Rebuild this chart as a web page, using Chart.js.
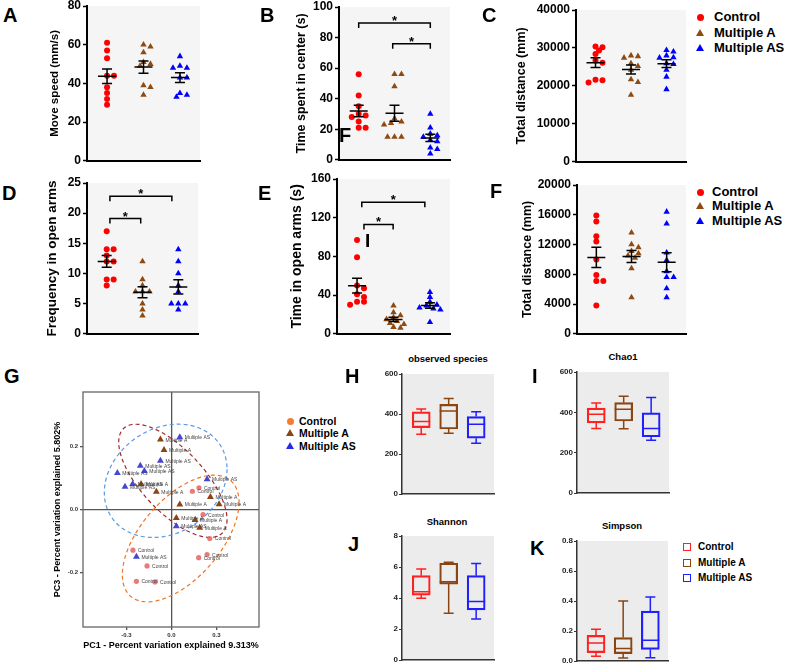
<!DOCTYPE html>
<html>
<head>
<meta charset="utf-8">
<script src="https://cdn.jsdelivr.net/npm/chart.js@4.4.1/dist/chart.umd.min.js"></script>
<style>
  body { margin: 0; background: #fff; }
  #fig { position: relative; width: 789px; height: 666px; overflow: hidden; font-family: "Liberation Sans", Arial, sans-serif; }
  #fig canvas { position: absolute; }
  .lbl { position: absolute; font-weight: bold; color: #000; white-space: nowrap; }
</style>
</head>
<body>
<div id="fig"></div>
<script>
// ----------------- Data -----------------
const groups = ['Control', 'Multiple A', 'Multiple AS'];

// A-F: one list per group (Control, Multiple A, Multiple AS)
const moveSpeed = [
  [61, 57, 53, 44, 44, 38, 35, 32, 29],
  [59, 60, 56, 51, 50, 49, 39, 38, 34],
  [54, 49, 48, 48, 43, 43, 33, 35, 34]
];
const centerTime = [
  [56, 42, 35, 30, 29, 28, 25, 21, 21],
  [56, 56, 48, 27, 25, 24, 23, 15, 15, 15],
  [30, 21, 17, 16, 15, 13, 12, 8, 7, 4]
];
const distanceOpenField = [
  [30200, 30400, 29300, 28400, 26700, 26100, 20900, 21600, 21500],
  [27800, 28000, 27400, 25900, 25200, 24200, 21000, 21700, 17600],
  [28000, 29000, 29400, 27400, 25900, 25700, 24200, 22400, 19100, 27500]
];
const openArmFreq = [
  [17, 14, 14, 13, 12, 12, 9, 9, 8],
  [12, 9, 8, 7, 7, 7, 5, 4, 3],
  [14, 12, 10, 8, 7, 5, 5, 5, 4]
];
const openArmTime = [
  [97, 79, 50, 47, 41, 38, 33, 33, 30],
  [29, 22, 19, 17, 15, 13, 11, 10, 7, 6],
  [43, 38, 33, 30, 29, 27, 26, 25, 12]
];
const distanceMaze = [
  [15900, 15100, 13100, 12400, 10000, 7900, 7100, 7100, 3800],
  [13600, 12000, 11600, 11100, 10800, 10500, 10200, 8800, 4900],
  [16400, 14800, 10900, 9900, 8400, 7600, 7600, 6100, 4900]
];

// significance brackets: [from group, to group, level]
const centerTimeBrackets = [[0, 2, 89.6], [0.95, 2, 76]];
const openArmFreqBrackets = [[0.09, 0.95, 19.1], [0.09, 1.82, 22.8]];
const openArmTimeBrackets = [[0.19, 0.99, 113], [0.13, 1.86, 136]];

// H-K boxes: [min, q1, median, q3, max] per group
const observedSpecies = [[299, 332, 362, 411, 425], [304, 325, 415, 448, 478], [254, 279, 349, 387, 411]];
const chao1 = [[320, 348, 390, 421, 446], [318, 357, 415, 448, 480], [261, 279, 320, 397, 474]];
const shannon = [[3.98, 4.19, 4.41, 5.44, 5.87], [3.01, 4.90, 5.05, 6.24, 6.30], [2.65, 3.23, 3.78, 5.44, 6.22]];
const simpson = [[0.031, 0.056, 0.12, 0.171, 0.211], [0.02, 0.049, 0.084, 0.156, 0.40], [0.022, 0.078, 0.138, 0.333, 0.427]];

// G: PCoA coordinates [PC1, PC3]
const pcoaControl = [[0.140, 0.057], [0.184, 0.068], [0.211, -0.017], [0.256, -0.093], [0.238, -0.144],
  [0.182, -0.154], [-0.256, -0.130], [-0.162, -0.180], [-0.233, -0.229], [-0.109, -0.231]];
const pcoaA = [[-0.073, 0.221], [-0.049, 0.188], [-0.202, 0.080], [-0.100, 0.055], [0.056, 0.015],
  [0.260, 0.039], [0.318, 0.016], [0.033, -0.028], [0.158, -0.034], [0.189, -0.059]];
const pcoaAS = [[0.056, 0.228], [-0.073, 0.154], [-0.207, 0.138], [-0.180, 0.121], [-0.360, 0.115],
  [-0.258, 0.080], [-0.309, 0.071], [0.238, 0.095], [0.033, -0.054], [-0.233, -0.151]];
// group ellipses: centre and two conjugate semi-axes (PC1, PC3 units)
const ellipseCenter = [[0.062, -0.093], [0.010, 0.090], [-0.038, 0.090]];
const ellipseAxis1 = [[0.389, 0.115], [0.361, -0.123], [0.409, 0.037]];
const ellipseAxis2 = [[0, -0.165], [0, -0.131], [0, -0.176]];

// ----------------- Styles -----------------
const FONT = '"Liberation Sans", Arial, sans-serif';
Chart.defaults.font.family = FONT;
Chart.defaults.color = '#000';
const dotColors = ['#ff0000', '#8f4a12', '#0000ff'];
const boxColors = ['#ff2020', '#8b4513', '#2020ff'];
const fig = document.getElementById('fig');

function makeCanvas(left, top, w, h) {
  const c = document.createElement('canvas');
  c.width = w; c.height = h;
  c.style.left = left + 'px'; c.style.top = top + 'px';
  c.style.width = w + 'px'; c.style.height = h + 'px';
  fig.appendChild(c);
  return c;
}

function addText(text, x, cy, size, center) {
  const d = document.createElement('div');
  d.className = 'lbl';
  d.textContent = text;
  d.style.fontSize = size + 'px';
  d.style.lineHeight = (size * 1.2) + 'px';
  d.style.top = (cy - size * 0.59) + 'px';
  d.style.left = x + 'px';
  if (center) d.style.transform = 'translateX(-50%)';
  fig.appendChild(d);
}

function addMarker(shape, color, cx, cy, s) {
  const d = document.createElement('div');
  d.style.position = 'absolute';
  if (shape === 'circle') {
    Object.assign(d.style, { left: cx - s / 2 + 'px', top: cy - s / 2 + 'px', width: s + 'px', height: s + 'px', borderRadius: '50%', background: color });
  } else if (shape === 'triangle') {
    const h = s * 0.9;
    Object.assign(d.style, { left: cx - s / 2 + 'px', top: cy - h / 2 + 'px', width: 0, height: 0,
      borderLeft: (s / 2) + 'px solid transparent', borderRight: (s / 2) + 'px solid transparent', borderBottom: h + 'px solid ' + color });
  } else {
    Object.assign(d.style, { left: cx - s / 2 + 'px', top: cy - s / 2 + 'px', width: (s - 3) + 'px', height: (s - 3) + 'px', border: '1.5px solid ' + color });
  }
  fig.appendChild(d);
}

const bgPlugin = color => ({
  id: 'plotBg',
  beforeDraw(chart) {
    const { ctx, chartArea: a } = chart;
    ctx.save();
    ctx.fillStyle = color;
    ctx.fillRect(a.left, a.top, a.right - a.left, a.bottom - a.top);
    ctx.restore();
  }
});

// simple beeswarm so equal values spread sideways
function swarm(vals, pxPerY, pxPerX, dia) {
  const placed = [];
  const xs = new Array(vals.length);
  const order = vals.map((v, i) => i).sort((a, b) => vals[b] - vals[a]);
  order.forEach(i => {
    const py = vals[i] * pxPerY;
    let off = 0;
    for (let k = 0; k < 40; k++) {
      const cand = (k === 0 ? 0 : (k % 2 ? 1 : -1) * Math.ceil(k / 2)) * dia * 0.6;
      if (placed.every(p => (p[0] - cand) ** 2 + (p[1] - py) ** 2 >= dia * dia * 0.7)) { off = cand; break; }
    }
    placed.push([off, py]);
    xs[i] = off / pxPerX;
  });
  return xs;
}

// mean +/- SEM and significance brackets
function meanSemPlugin(values, brackets) {
  return {
    id: 'meanSem',
    afterDatasetsDraw(chart) {
      const { ctx, scales: { x, y } } = chart;
      ctx.save();
      ctx.strokeStyle = '#000';
      ctx.lineWidth = 1.5;
      values.forEach((vals, g) => {
        const n = vals.length;
        const mean = vals.reduce((a, b) => a + b, 0) / n;
        const sd = Math.sqrt(vals.reduce((a, b) => a + (b - mean) ** 2, 0) / (n - 1));
        const sem = sd / Math.sqrt(n);
        const cx = x.getPixelForValue(g);
        const ym = y.getPixelForValue(mean), yt = y.getPixelForValue(mean + sem), yb = y.getPixelForValue(mean - sem);
        ctx.beginPath();
        ctx.moveTo(cx - 9, ym); ctx.lineTo(cx + 9, ym);
        ctx.moveTo(cx, yt); ctx.lineTo(cx, yb);
        ctx.moveTo(cx - 5, yt); ctx.lineTo(cx + 5, yt);
        ctx.moveTo(cx - 5, yb); ctx.lineTo(cx + 5, yb);
        ctx.stroke();
      });
      (brackets || []).forEach(([a, b, lvl]) => {
        const x1 = x.getPixelForValue(a), x2 = x.getPixelForValue(b), yy = y.getPixelForValue(lvl);
        ctx.beginPath();
        ctx.moveTo(x1, yy + 5); ctx.lineTo(x1, yy); ctx.lineTo(x2, yy); ctx.lineTo(x2, yy + 5);
        ctx.stroke();
        ctx.fillStyle = '#000';
        ctx.font = 'bold 13px ' + FONT;
        ctx.textAlign = 'center';
        ctx.fillText('*', (x1 + x2) / 2, yy + 2);
      });
      ctx.restore();
    }
  };
}

// ----------------- A-F dot plots -----------------
const X_MIN = -0.55, X_MAX = 2.55;

function dotPanel(p) {
  const padT = 10, padB = 8, padR = 4;
  const plotW = p.plotR - p.plotL, plotH = p.plotB - p.plotT;
  const canvas = makeCanvas(p.plotL - p.axisW, p.plotT - padT, plotW + p.axisW + padR, plotH + padT + padB);
  const pxPerX = plotW / (X_MAX - X_MIN), pxPerY = plotH / p.yMax;
  const datasets = p.values.map((vals, g) => {
    const offs = swarm(vals, pxPerY, pxPerX, 5.8);
    return {
      label: groups[g],
      data: vals.map((v, i) => ({ x: g + offs[i], y: v })),
      pointStyle: g === 0 ? 'circle' : 'triangle',
      pointRadius: g === 0 ? 3 : 3.7,
      backgroundColor: dotColors[g],
      borderWidth: 0
    };
  });
  new Chart(canvas, {
    type: 'scatter',
    data: { datasets },
    options: {
      responsive: false, animation: false, events: [],
      layout: { padding: { top: padT, right: padR, bottom: padB, left: 0 } },
      plugins: { legend: { display: false }, tooltip: { enabled: false } },
      scales: {
        x: {
          min: X_MIN, max: X_MAX,
          ticks: { display: false },
          grid: { display: false, drawTicks: false },
          border: { color: '#000', width: 2 },
          afterFit: s => { s.height = 0; }
        },
        y: {
          min: 0, max: p.yMax,
          ticks: { stepSize: p.step, font: { size: 12, weight: 'bold' }, color: '#000', padding: 2, callback: v => String(v) },
          grid: { drawOnChartArea: false, tickLength: 4, tickColor: '#000', tickWidth: 1.5 },
          border: { color: '#000', width: 2 },
          title: { display: true, text: p.title, font: { size: p.titleSize, weight: 'bold' }, color: '#000', padding: 0 },
          afterFit: s => { s.width = p.axisW; }
        }
      }
    },
    plugins: [bgPlugin('#f5f5f5'), meanSemPlugin(p.values, p.brackets)]
  });
}

[
  { values: moveSpeed, title: 'Move speed (mm/s)', yMax: 80, step: 20, plotL: 87, plotT: 6, plotR: 200, plotB: 162, axisW: 39, titleSize: 11.5 },
  { values: centerTime, title: 'Time spent in center (s)', yMax: 100, step: 20, plotL: 339, plotT: 7, plotR: 450, plotB: 161, axisW: 45, titleSize: 12.5, brackets: centerTimeBrackets },
  { values: distanceOpenField, title: 'Total distance (mm)', yMax: 40000, step: 10000, plotL: 576, plotT: 10, plotR: 686, plotB: 163, axisW: 62, titleSize: 12.5 },
  { values: openArmFreq, title: 'Frequency in open arms', yMax: 25, step: 5, plotL: 87, plotT: 183, plotR: 198, plotB: 335, axisW: 43, titleSize: 13.5, brackets: openArmFreqBrackets },
  { values: openArmTime, title: 'Time in open arms (s)', yMax: 160, step: 40, plotL: 337, plotT: 179, plotR: 450, plotB: 335, axisW: 48, titleSize: 14, brackets: openArmTimeBrackets },
  { values: distanceMaze, title: 'Total distance (mm)', yMax: 20000, step: 4000, plotL: 577, plotT: 185, plotR: 686, plotB: 335, axisW: 57, titleSize: 12.5 }
].forEach(dotPanel);

// ----------------- H-K box plots -----------------
function boxPlugin(boxes) {
  return {
    id: 'whiskers',
    afterDatasetsDraw(chart) {
      const { ctx, scales: { x, y } } = chart;
      ctx.save();
      ctx.lineWidth = 1.5;
      boxes.forEach((b, g) => {
        const cx = x.getPixelForValue(g);
        ctx.strokeStyle = boxColors[g];
        ctx.beginPath();
        ctx.moveTo(cx, y.getPixelForValue(b[0])); ctx.lineTo(cx, y.getPixelForValue(b[1]));
        ctx.moveTo(cx, y.getPixelForValue(b[3])); ctx.lineTo(cx, y.getPixelForValue(b[4]));
        ctx.moveTo(cx - 5, y.getPixelForValue(b[0])); ctx.lineTo(cx + 5, y.getPixelForValue(b[0]));
        ctx.moveTo(cx - 5, y.getPixelForValue(b[4])); ctx.lineTo(cx + 5, y.getPixelForValue(b[4]));
        ctx.moveTo(cx - 9, y.getPixelForValue(b[2])); ctx.lineTo(cx + 9, y.getPixelForValue(b[2]));
        ctx.stroke();
      });
      ctx.restore();
    }
  };
}

function boxPanel(p) {
  const axisW = 22, padT = 8, padB = 6, padR = 3;
  const plotW = p.plotR - p.plotL, plotH = p.plotB - p.plotT;
  const canvas = makeCanvas(p.plotL - axisW, p.plotT - padT, plotW + axisW + padR, plotH + padT + padB);
  new Chart(canvas, {
    type: 'bar',
    data: {
      datasets: [{
        data: p.boxes.map((b, g) => ({ x: g, y: [b[1], b[3]] })),
        borderColor: boxColors,
        backgroundColor: 'rgba(0,0,0,0)',
        borderWidth: 1.5,
        borderSkipped: false,
        barThickness: 18
      }]
    },
    options: {
      responsive: false, animation: false, events: [],
      layout: { padding: { top: padT, right: padR, bottom: padB, left: 0 } },
      plugins: { legend: { display: false }, tooltip: { enabled: false } },
      scales: {
        x: {
          type: 'linear', min: -0.7, max: 2.65, offset: false,
          ticks: { display: false },
          grid: { display: false, drawTicks: false, offset: false },
          border: { color: '#333', width: 1.5 },
          afterFit: s => { s.height = 0; }
        },
        y: {
          min: 0, max: p.yMax, beginAtZero: true,
          ticks: { stepSize: p.step, font: { size: 8, weight: 'bold' }, color: '#222', padding: 1,
            callback: v => v.toFixed(p.decimals) },
          grid: { drawOnChartArea: false, tickLength: 3, tickColor: '#333', tickWidth: 1.2 },
          border: { color: '#333', width: 1.5 },
          afterFit: s => { s.width = axisW; }
        }
      }
    },
    plugins: [bgPlugin('#ececec'), boxPlugin(p.boxes)]
  });
}

[
  { boxes: observedSpecies, yMax: 600, step: 200, decimals: 0, plotL: 402, plotT: 374, plotR: 494, plotB: 494 },
  { boxes: chao1, yMax: 600, step: 200, decimals: 0, plotL: 577, plotT: 372, plotR: 669, plotB: 493 },
  { boxes: shannon, yMax: 8, step: 2, decimals: 0, plotL: 402, plotT: 536, plotR: 494, plotB: 660 },
  { boxes: simpson, yMax: 0.8, step: 0.2, decimals: 1, plotL: 577, plotT: 541, plotR: 668, plotB: 661 }
].forEach(boxPanel);

// ----------------- G PCoA -----------------
const pcoaSets = [pcoaControl, pcoaA, pcoaAS];
const pcoaColors = ['rgba(232,108,104,0.9)', '#8b4513', '#4646d2'];
const ellipseColors = ['#f07422', '#9e2a2a', '#5a98e2'];

const pcoaPlugin = {
  id: 'pcoa',
  beforeDatasetsDraw(chart) {
    const { ctx, chartArea: a, scales: { x, y } } = chart;
    ctx.save();
    ctx.strokeStyle = '#666';
    ctx.lineWidth = 1.3;
    ctx.strokeRect(a.left, a.top, a.right - a.left, a.bottom - a.top);
    ctx.lineWidth = 1.2;
    ctx.setLineDash([4, 3]);
    ellipseCenter.forEach((c, g) => {
      const u = ellipseAxis1[g], v = ellipseAxis2[g];
      ctx.strokeStyle = ellipseColors[g];
      ctx.beginPath();
      for (let k = 0; k <= 120; k++) {
        const t = k / 120 * Math.PI * 2;
        const px = x.getPixelForValue(c[0] + Math.cos(t) * u[0] + Math.sin(t) * v[0]);
        const py = y.getPixelForValue(c[1] + Math.cos(t) * u[1] + Math.sin(t) * v[1]);
        if (k) ctx.lineTo(px, py); else ctx.moveTo(px, py);
      }
      ctx.stroke();
    });
    ctx.restore();
  },
  afterDatasetsDraw(chart) {
    const { ctx } = chart;
    ctx.save();
    ctx.fillStyle = '#444';
    ctx.font = '5px ' + FONT;
    chart.data.datasets.forEach((ds, g) => {
      chart.getDatasetMeta(g).data.forEach(pt => {
        ctx.fillText(ds.label, pt.x + 5, pt.y + 2);
      });
    });
    ctx.restore();
  }
};

(function () {
  const plotL = 83, plotT = 392, plotR = 259, plotB = 627, axisW = 31, padT = 8, padR = 4, xAxisH = 24;
  const canvas = makeCanvas(plotL - axisW, plotT - padT, plotR - plotL + axisW + padR, plotB - plotT + padT + xAxisH);
  const zeroLine = c => (c.tick && c.tick.value === 0 ? '#555' : 'rgba(0,0,0,0)');
  new Chart(canvas, {
    type: 'scatter',
    data: {
      datasets: pcoaSets.map((pts, g) => ({
        label: groups[g],
        data: pts.map(([px, py]) => ({ x: px, y: py })),
        pointStyle: g === 0 ? 'circle' : 'triangle',
        pointRadius: g === 0 ? 2.6 : 4,
        backgroundColor: pcoaColors[g],
        borderWidth: 0
      }))
    },
    options: {
      responsive: false, animation: false, events: [],
      layout: { padding: { top: padT, right: padR, bottom: 0, left: 0 } },
      plugins: { legend: { display: false }, tooltip: { enabled: false } },
      scales: {
        x: {
          min: -0.589, max: 0.584,
          ticks: { stepSize: 0.3, includeBounds: false, callback: v => v.toFixed(1), font: { size: 6, weight: 'bold' }, color: '#333', padding: 2 },
          grid: { color: zeroLine, lineWidth: 1.3, tickColor: '#555', tickLength: 3 },
          border: { display: false },
          title: { display: true, text: 'PC1 - Percent variation explained 9.313%', font: { size: 9, weight: 'bold' }, color: '#000', padding: 0 },
          afterFit: s => { s.height = xAxisH; }
        },
        y: {
          min: -0.374, max: 0.372,
          ticks: { stepSize: 0.2, includeBounds: false, callback: v => v.toFixed(1), font: { size: 6, weight: 'bold' }, color: '#333', padding: 2 },
          grid: { color: zeroLine, lineWidth: 1.3, tickColor: '#555', tickLength: 3 },
          border: { display: false },
          title: { display: true, text: 'PC3 - Percent variation explained 5.802%', font: { size: 9, weight: 'bold' }, color: '#000', padding: 0 },
          afterFit: s => { s.width = axisW; }
        }
      }
    },
    plugins: [pcoaPlugin]
  });
})();

// ----------------- Legends and labels -----------------
[[17, 33, 48, 714, 13], [192, 206, 221, 712, 13]].forEach(([r0, r1, r2, tx, fs]) => {
  addMarker('circle', dotColors[0], 700, r0, 7);
  addMarker('triangle', dotColors[1], 700, r1, 8);
  addMarker('triangle', dotColors[2], 700, r2, 8);
  addText(groups[0], tx, r0, fs);
  addText(groups[1], tx, r1, fs);
  addText(groups[2], tx, r2, fs);
});

addMarker('circle', '#f47c30', 290, 421, 7);
addMarker('triangle', '#8b4513', 290, 433, 8);
addMarker('triangle', '#2a2ae6', 290, 446, 8);
addText(groups[0], 299, 421, 10.5);
addText(groups[1], 299, 433, 10.5);
addText(groups[2], 299, 446, 10.5);

[547, 563, 578].forEach((cy, g) => {
  addMarker('square', boxColors[g], 687, cy, 9);
  addText(groups[g], 698, cy, 10);
});

addText('observed species', 448, 359, 9.5, true);
addText('Chao1', 623, 357, 9.5, true);
addText('Shannon', 447, 522, 9.5, true);
addText('Simpson', 622, 526, 9.5, true);

[['A', 3, 14.5], ['B', 260, 14.5], ['C', 482, 14.5], ['D', 2, 192.5], ['E', 258, 192.5], ['F', 490, 190.5],
 ['G', 4, 376], ['H', 345, 376], ['I', 532, 376], ['J', 348, 544], ['K', 530, 548]].forEach(([t, x, y]) => addText(t, x, y, 20));

// stray letters that sit inside panels B and E
addText('F', 339, 135, 20);
addText('I', 365, 241, 19);
</script>
</body>
</html>
